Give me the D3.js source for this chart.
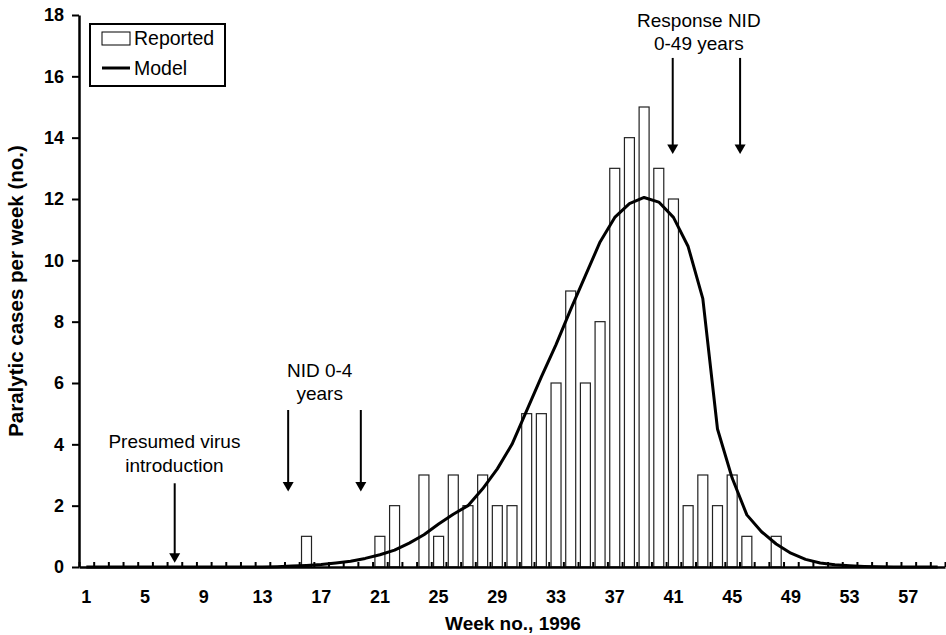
<!DOCTYPE html>
<html>
<head>
<meta charset="utf-8">
<script src="https://cdn.jsdelivr.net/npm/d3@7"></script>
<style>
    body { margin: 0; background: #fff; }
    svg { display: block; font-family: "Liberation Sans", Arial, sans-serif; }
</style>
</head>
<body>
<div id="chart"></div>
<script>
// Weeks of 1996 shown on the category axis.
var weeks = d3.range(1, 60);

// Reported paralytic cases per week (weeks 1..59).
var reported = [
    0, 0, 0, 0, 0, 0, 0, 0, 0, 0,
    0, 0, 0, 0, 0, 1, 0, 0, 0, 0,
    1, 2, 0, 3, 1, 3, 2, 3, 2, 2,
    5, 5, 6, 9, 6, 8, 13, 14, 15, 13,
    12, 2, 3, 2, 3, 1, 0, 1, 0, 0,
    0, 0, 0, 0, 0, 0, 0, 0, 0
];

// Model estimate per week (weeks 1..59).
var model = [
    0, 0, 0, 0, 0, 0, 0, 0, 0, 0,
    0, 0, 0, 0.01, 0.03, 0.05, 0.08, 0.13, 0.19, 0.28,
    0.4, 0.55, 0.78, 1.05, 1.4, 1.72, 2.0, 2.55, 3.2, 4.0,
    5.1, 6.2, 7.25, 8.4, 9.5, 10.6, 11.4, 11.85, 12.05, 11.9,
    11.4, 10.45, 8.75, 4.5, 2.9, 1.7, 1.15, 0.75, 0.45, 0.25,
    0.13, 0.07, 0.04, 0.02, 0.01, 0, 0, 0, 0
];

// Tick labels.
var weekLabels = [1, 5, 9, 13, 17, 21, 25, 29, 33, 37, 41, 45, 49, 53, 57];
var caseTicks = [0, 2, 4, 6, 8, 10, 12, 14, 16, 18];

// Arrow annotations: week position, top and tip in case units.
var arrowWeeks = [7.02, 14.75, 19.7, 40.95, 45.54];
var arrowTops = [2.73, 5.12, 5.12, 16.6, 16.6];
var arrowTips = [0.14, 2.46, 2.46, 13.47, 13.47];

// Text annotations: lines, centre week and first baseline in case units.
var noteLines = [["Presumed virus", "introduction"], ["NID 0-4", "years"], ["Response NID", "0-49 years"]];
var noteWeeks = [7.0, 16.9, 42.73];
var noteTops = [3.87, 6.2, 17.62];

// Layout.
var width = 946, height = 635;
var plotLeft = 79, plotRight = 945, plotTop = 15, plotBottom = 567;

var svg = d3.select("#chart").append("svg")
        .attr("width", width)
        .attr("height", height);

// Scales.
var x = d3.scaleBand()
        .domain(weeks)
        .range([plotLeft, plotRight])
        .paddingInner(0.32)
        .paddingOuter(0.16);
// Continuous version of the week axis for annotations and boundary ticks.
var xl = d3.scaleLinear()
        .domain([0.5, 59.5])
        .range([plotLeft, plotRight]);
var y = d3.scaleLinear()
        .domain([0, 18])
        .range([plotBottom, plotTop]);

// Bars.
svg.append("g").selectAll("rect")
        .data(weeks.filter(function(w, i) { return reported[i] > 0; }))
        .enter().append("rect")
        .attr("x", function(w) { return x(w); })
        .attr("y", function(w) { return y(reported[w - 1]); })
        .attr("width", x.bandwidth())
        .attr("height", function(w) { return y(0) - y(reported[w - 1]); })
        .style("fill", "#fff")
        .style("stroke", "#222")
        .style("stroke-width", 1.2);

// X axis: boundary ticks pointing up, labels under every 4th week.
var boundaryAxis = d3.axisBottom(xl)
        .tickValues(d3.range(0.5, 60, 1))
        .tickSizeInner(-5)
        .tickSizeOuter(0)
        .tickFormat("");
var gxb = svg.append("g")
        .attr("transform", "translate(0," + plotBottom + ")")
        .call(boundaryAxis);
gxb.select(".domain").style("stroke-width", 2.5);
gxb.selectAll(".tick line").style("stroke-width", 2);

var labelAxis = d3.axisBottom(x)
        .tickValues(weekLabels)
        .tickSize(0)
        .tickPadding(23);
var gxl = svg.append("g")
        .attr("transform", "translate(0," + plotBottom + ")")
        .call(labelAxis);
gxl.select(".domain").remove();
gxl.selectAll("text")
        .style("font-family", "'Liberation Sans', Arial, sans-serif")
        .style("font-size", "18px")
        .style("font-weight", "bold")
        .style("fill", "#000");

// Model curve.
var line = d3.line()
        .x(function(w) { return x(w) + x.bandwidth() / 2; })
        .y(function(w) { return y(model[w - 1]); });
svg.append("path")
        .datum(weeks)
        .attr("d", line)
        .style("fill", "none")
        .style("stroke", "#000")
        .style("stroke-width", 3)
        .style("stroke-linejoin", "round");

// Y axis.
var yAxis = d3.axisLeft(y)
        .tickValues(caseTicks)
        .tickSizeInner(7)
        .tickSizeOuter(0)
        .tickPadding(8);
var gy = svg.append("g")
        .attr("transform", "translate(" + plotLeft + ",0)")
        .call(yAxis);
gy.select(".domain").style("stroke-width", 2.5);
gy.selectAll(".tick line").style("stroke-width", 2);
gy.selectAll("text")
        .style("font-family", "'Liberation Sans', Arial, sans-serif")
        .style("font-size", "18px")
        .style("font-weight", "bold")
        .style("fill", "#000");

// Axis titles.
svg.append("text")
        .attr("x", 513)
        .attr("y", 630)
        .attr("text-anchor", "middle")
        .style("font-size", "19px")
        .style("font-weight", "bold")
        .text("Week no., 1996");
svg.append("text")
        .attr("transform", "translate(23," + ((plotTop + plotBottom) / 2) + ") rotate(-90)")
        .attr("text-anchor", "middle")
        .style("font-size", "20.5px")
        .style("font-weight", "bold")
        .text("Paralytic cases per week (no.)");

// Arrows.
var arrows = svg.append("g");
arrowWeeks.forEach(function(w, i) {
    var ax = xl(w), ay0 = y(arrowTops[i]), ay1 = y(arrowTips[i]);
    arrows.append("line")
            .attr("x1", ax).attr("x2", ax)
            .attr("y1", ay0).attr("y2", ay1 - 8)
            .style("stroke", "#000")
            .style("stroke-width", 2);
    arrows.append("path")
            .attr("d", "M" + (ax - 5.5) + "," + (ay1 - 9.5) + "L" + (ax + 5.5) + "," + (ay1 - 9.5) + "L" + ax + "," + ay1 + "Z")
            .style("fill", "#000");
});

// Annotation texts.
noteLines.forEach(function(lines, i) {
    var t = svg.append("text")
            .attr("text-anchor", "middle")
            .style("font-size", "19px");
    lines.forEach(function(s, j) {
        t.append("tspan")
                .attr("x", xl(noteWeeks[i]))
                .attr("y", y(noteTops[i]) + j * 23.5)
                .text(s);
    });
});

// Legend.
var legend = svg.append("g");
legend.append("rect")
        .attr("x", 90).attr("y", 24)
        .attr("width", 135).attr("height", 62)
        .style("fill", "#fff")
        .style("stroke", "#000")
        .style("stroke-width", 2);
legend.append("rect")
        .attr("x", 102).attr("y", 32)
        .attr("width", 28).attr("height", 13)
        .style("fill", "#fff")
        .style("stroke", "#000")
        .style("stroke-width", 1);
legend.append("line")
        .attr("x1", 102).attr("x2", 130)
        .attr("y1", 68).attr("y2", 68)
        .style("stroke", "#000")
        .style("stroke-width", 3);
legend.append("text")
        .attr("x", 134).attr("y", 45)
        .style("font-size", "19.5px")
        .text("Reported");
legend.append("text")
        .attr("x", 134).attr("y", 75)
        .style("font-size", "19.5px")
        .text("Model");
</script>
</body>
</html>
